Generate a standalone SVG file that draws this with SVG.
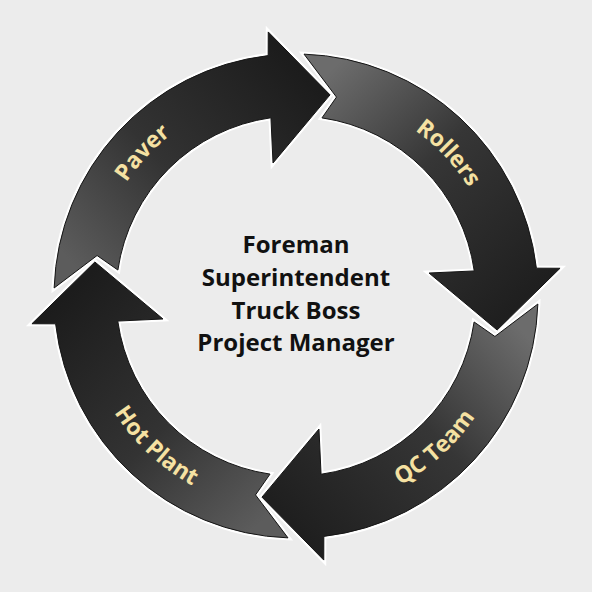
<svg xmlns="http://www.w3.org/2000/svg" xmlns:xlink="http://www.w3.org/1999/xlink" width="592" height="592" viewBox="0 0 592 592">
  <defs>
    <style>
      .outline { stroke: #ffffff; stroke-width: 5; stroke-linejoin: miter; paint-order: stroke; }
      .rim { fill: none; stroke: #141414; stroke-width: 1; stroke-linejoin: miter; }
      .lbl { font-family: "Open Sans", "DejaVu Sans", sans-serif; font-weight: 700; font-size: 23px; fill: #f5e1a2; }
      .ctr { font-family: "Open Sans", "DejaVu Sans", sans-serif; font-weight: 700; font-size: 24px; fill: #111111; text-anchor: middle; }
    </style>
    <linearGradient id="gDark" gradientUnits="userSpaceOnUse" x1="80" y1="272" x2="300" y2="70">
      <stop offset="0" stop-color="#5c5c5c"/>
      <stop offset="0.45" stop-color="#333333"/>
      <stop offset="1" stop-color="#1c1c1c"/>
    </linearGradient>
    <linearGradient id="gLight" gradientUnits="userSpaceOnUse" x1="80" y1="272" x2="300" y2="70">
      <stop offset="0" stop-color="#6c6c6c"/>
      <stop offset="0.45" stop-color="#363636"/>
      <stop offset="1" stop-color="#1f1f1f"/>
    </linearGradient>
    <path id="arrow" d="M 54.13 287.98 A 242 242 0 0 1 268.18 55.60 L 268.25 31.95 L 330.02 94.86 L 273.02 162.97 L 270.95 117.75 A 180 180 0 0 0 117.88 270.02 L 97.08 255.53 Z"/>
    <path id="pPaver" d="M 93.52 320.86 A 204 204 0 0 1 306.68 92.28"/>
    <path id="pRollers" d="M 284.61 92.32 A 204 204 0 0 1 498.57 320.16"/>
    <path id="pQC" d="M 267.43 510.10 A 216 216 0 0 0 511.81 286.95"/>
    <path id="pHot" d="M 80.30 284.69 A 216 216 0 0 0 322.32 510.39"/>
  </defs>

  <rect x="0" y="0" width="592" height="592" fill="#ececec"/>

  <g id="connectors"></g>

  <g id="paver">
    <use href="#arrow" class="outline" fill="url(#gDark)"/>
    <use href="#arrow" class="rim"/>
    <text class="lbl"><textPath href="#pPaver" startOffset="50%" text-anchor="middle">Paver</textPath></text>
  </g>

  <g id="rollers">
    <use href="#arrow" class="outline" fill="url(#gLight)" transform="rotate(90 296 296)"/>
    <use href="#arrow" class="rim" transform="rotate(90 296 296)"/>
    <text class="lbl"><textPath href="#pRollers" startOffset="50%" text-anchor="middle">Rollers</textPath></text>
  </g>

  <g id="qc-team">
    <use href="#arrow" class="outline" fill="url(#gLight)" transform="rotate(180 296 296)"/>
    <use href="#arrow" class="rim" transform="rotate(180 296 296)"/>
    <text class="lbl"><textPath href="#pQC" startOffset="50%" text-anchor="middle">QC Team</textPath></text>
  </g>

  <g id="hot-plant">
    <use href="#arrow" class="outline" fill="url(#gDark)" transform="rotate(270 296 296)"/>
    <use href="#arrow" class="rim" transform="rotate(270 296 296)"/>
    <text class="lbl"><textPath href="#pHot" startOffset="50%" text-anchor="middle">Hot Plant</textPath></text>
  </g>

  <g id="center-roles">
    <text class="ctr" x="296" y="252.5">Foreman</text>
    <text class="ctr" x="296" y="285.5">Superintendent</text>
    <text class="ctr" x="296" y="318.5">Truck Boss</text>
    <text class="ctr" x="296" y="351">Project Manager</text>
  </g>
</svg>
